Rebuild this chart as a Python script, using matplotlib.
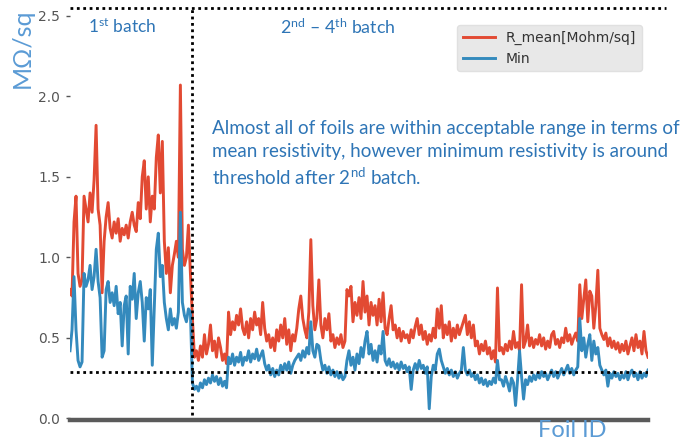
import numpy as np
import matplotlib
matplotlib.use('Agg')
import matplotlib.pyplot as plt

# foil sheet resistance (MOhm/sq)
r_mean_batch1 = [
    0.80, 0.76, 1.22, 1.38, 0.90, 0.82, 0.86, 1.38, 1.30, 1.22,
    1.40, 1.28, 1.48, 1.82, 1.30, 1.20, 0.78, 1.10, 1.25, 1.34,
    1.18, 1.12, 1.22, 1.15, 1.24, 1.10, 1.18, 1.14, 1.20, 1.12,
    1.22, 1.28, 1.20, 1.16, 1.34, 1.24, 1.50, 1.60, 1.30, 1.50,
    1.22, 1.38, 1.30, 1.62, 1.76, 1.40, 1.72, 1.10, 0.90, 1.06,
    0.78, 0.95, 1.02, 1.10, 1.00, 2.07, 1.05, 0.95, 1.00, 1.20,
    0.90,
]
min_batch1 = [
    0.42, 0.55, 0.88, 0.55, 0.36, 0.32, 0.35, 0.90, 0.82, 0.86,
    0.95, 0.80, 0.88, 1.05, 0.85, 0.75, 0.38, 0.42, 0.80, 0.85,
    0.72, 0.78, 0.70, 0.82, 0.65, 0.72, 0.45, 0.70, 0.76, 0.40,
    0.82, 0.74, 0.90, 0.62, 0.78, 0.85, 0.72, 0.48, 0.75, 0.68,
    0.80, 0.33, 0.70, 1.05, 1.15, 0.88, 0.95, 0.72, 0.62, 0.55,
    0.68, 0.58, 0.62, 0.56, 0.66, 1.28, 0.72, 0.64, 0.60, 0.68,
    0.66,
]
r_mean_batch2_4 = [
    0.62, 0.38, 0.42, 0.36, 0.45, 0.38, 0.52, 0.40, 0.46, 0.58,
    0.42, 0.48, 0.38, 0.50, 0.44, 0.36, 0.40, 0.34, 0.66, 0.52,
    0.60, 0.55, 0.64, 0.58, 0.68, 0.56, 0.52, 0.60, 0.50, 0.62,
    0.55, 0.66, 0.58, 0.62, 0.52, 0.72, 0.56, 0.48, 0.52, 0.44,
    0.50, 0.42, 0.55, 0.48, 0.58, 0.50, 0.62, 0.46, 0.55, 0.42,
    0.52, 0.48, 0.56, 0.68, 0.76, 0.62, 0.55, 0.50, 0.66, 1.11,
    0.70, 0.55, 0.62, 0.86, 0.58, 0.50, 0.62, 0.55, 0.65, 0.48,
    0.52, 0.44, 0.50, 0.46, 0.52, 0.44, 0.48, 0.80, 0.76, 0.82,
    0.60, 0.72, 0.64, 0.75, 0.62, 0.85, 0.66, 0.76, 0.58, 0.72,
    0.64, 0.70, 0.58, 0.74, 0.60, 0.78, 0.56, 0.52, 0.62, 0.70,
    0.55, 0.58, 0.50, 0.56, 0.48, 0.54, 0.50, 0.52, 0.47, 0.55,
    0.50, 0.57, 0.62, 0.52, 0.58, 0.49, 0.54, 0.46, 0.52, 0.48,
    0.56, 0.50, 0.68, 0.56, 0.70, 0.50, 0.58, 0.52, 0.60, 0.48,
    0.56, 0.50, 0.58, 0.52, 0.56, 0.60, 0.64, 0.52, 0.60, 0.50,
    0.58, 0.45, 0.48, 0.40, 0.46, 0.42, 0.48, 0.40, 0.44, 0.37,
    0.42, 0.35, 0.81, 0.42, 0.44, 0.40, 0.46, 0.42, 0.48, 0.43,
    0.54, 0.44, 0.47, 0.42, 0.83, 0.44, 0.48, 0.58, 0.45, 0.50,
    0.44, 0.49, 0.46, 0.52, 0.45, 0.50, 0.43, 0.48, 0.44, 0.52,
    0.54, 0.46, 0.49, 0.44, 0.50, 0.47, 0.56, 0.48, 0.52, 0.46,
    0.50, 0.53, 0.48, 0.83, 0.62, 0.74, 0.86, 0.60, 0.79, 0.76,
    0.56, 0.70, 0.92, 0.56, 0.52, 0.49, 0.53, 0.45, 0.50, 0.44,
    0.48, 0.43, 0.47, 0.41, 0.46, 0.42, 0.48, 0.40, 0.45, 0.50,
    0.42, 0.52, 0.44, 0.48, 0.40, 0.54, 0.42, 0.38,
]
min_batch2_4 = [
    0.22, 0.18, 0.20, 0.17, 0.22, 0.19, 0.24, 0.21, 0.25, 0.22,
    0.27, 0.23, 0.26, 0.21, 0.25, 0.20, 0.23, 0.19, 0.38, 0.34,
    0.40, 0.33, 0.38, 0.35, 0.41, 0.33, 0.38, 0.36, 0.42, 0.35,
    0.40, 0.37, 0.43, 0.36, 0.39, 0.42, 0.34, 0.30, 0.33, 0.27,
    0.31, 0.26, 0.30, 0.27, 0.33, 0.29, 0.34, 0.30, 0.35, 0.28,
    0.33, 0.36, 0.38, 0.40, 0.36, 0.42, 0.38, 0.44, 0.40, 0.60,
    0.42, 0.38, 0.46, 0.45, 0.36, 0.30, 0.33, 0.28, 0.32, 0.27,
    0.30, 0.26, 0.29, 0.25, 0.28, 0.24, 0.26, 0.36, 0.42, 0.33,
    0.38, 0.30, 0.40, 0.34, 0.44, 0.38, 0.48, 0.54, 0.40, 0.46,
    0.36, 0.42, 0.35, 0.45, 0.40, 0.54, 0.36, 0.33, 0.37, 0.32,
    0.35, 0.31, 0.34, 0.30, 0.35, 0.31, 0.33, 0.29, 0.32, 0.18,
    0.30, 0.34, 0.30, 0.36, 0.31, 0.33, 0.28, 0.32, 0.06, 0.26,
    0.33, 0.30, 0.40, 0.43, 0.36, 0.32, 0.28, 0.31, 0.27, 0.30,
    0.26, 0.29, 0.25, 0.28, 0.30, 0.44, 0.30, 0.27, 0.30, 0.26,
    0.28, 0.24, 0.27, 0.22, 0.25, 0.21, 0.24, 0.20, 0.23, 0.21,
    0.25, 0.22, 0.36, 0.24, 0.24, 0.20, 0.26, 0.22, 0.17, 0.25,
    0.22, 0.08, 0.24, 0.42, 0.26, 0.12, 0.24, 0.21, 0.26, 0.23,
    0.27, 0.24, 0.28, 0.25, 0.29, 0.26, 0.28, 0.24, 0.27, 0.30,
    0.26, 0.29, 0.25, 0.28, 0.31, 0.27, 0.30, 0.33, 0.28, 0.31,
    0.27, 0.30, 0.32, 0.62, 0.42, 0.50, 0.38, 0.46, 0.52, 0.36,
    0.48, 0.40, 0.44, 0.33, 0.30, 0.27, 0.30, 0.20, 0.28, 0.25,
    0.29, 0.26, 0.28, 0.24, 0.27, 0.25, 0.29, 0.24, 0.28, 0.30,
    0.26, 0.28, 0.24, 0.29, 0.25, 0.28, 0.26, 0.30,
]

r_mean = np.array(r_mean_batch1 + r_mean_batch2_4)
r_min = np.array(min_batch1 + min_batch2_4)
foil_id = np.arange(len(r_mean))

threshold = 0.29        # lower acceptance limit
upper_limit = 2.55
batch_split = len(r_mean_batch1) - 0.4

red = '#E24A33'
blue = '#348ABD'
txt_blue = '#2E75B6'
lab_blue = '#5B9BD5'

plt.rcParams['mathtext.fontset'] = 'custom'
plt.rcParams['mathtext.rm'] = 'Lato'
plt.rcParams['mathtext.it'] = 'Lato:italic'

fig = plt.figure(figsize=(6.81, 4.40), dpi=100)
ax = fig.add_axes([70 / 681, 20 / 440, 578 / 681, 410 / 440])

ax.plot(foil_id, r_mean, color=red, lw=2.1, label='R_mean[Mohm/sq]')
ax.plot(foil_id, r_min, color=blue, lw=2.1, label='Min')

# limits and batch separator
ax.plot([0, len(r_mean) + 0.5], [threshold, threshold], color='black', ls=(0, (1, 1.3)), lw=2)
ax.plot([0, len(r_mean) + 8], [upper_limit, upper_limit], color='black', ls=(0, (1, 1.3)), lw=2,
        clip_on=False)
ax.plot([batch_split, batch_split], [0.02, upper_limit], color='black', ls=(0, (1, 1.3)), lw=2,
        clip_on=False)

ax.set_xlim(0, len(r_mean) - 1)
ax.set_ylim(-0.01, 2.536)
ax.set_yticks([0.0, 0.5, 1.0, 1.5, 2.0, 2.5])
ax.set_xticks([])
ax.tick_params(axis='y', colors='#555555', labelsize=10, length=3, width=1, pad=4)
for s in ['top', 'right', 'left']:
    ax.spines[s].set_visible(False)
ax.spines['bottom'].set_color('#5a5a5a')
ax.spines['bottom'].set_linewidth(3.2)
ax.spines['bottom'].set_position(('data', -0.012))

leg = ax.legend(loc='upper right', bbox_to_anchor=(642 / 681, 1 - 25 / 440),
                bbox_transform=fig.transFigure, borderaxespad=0, fontsize=10,
                frameon=True, fancybox=True, handlelength=2.3, labelcolor='#333333')
leg.get_frame().set_facecolor('#E8E8E8')
leg.get_frame().set_edgecolor('#E0E0E0')
leg.get_frame().set_alpha(1)

fig.text(88 / 681, 1 - 27 / 440, '1$^{\\rm st}$ batch', color=txt_blue, fontsize=12.5,
         family='Lato', va='center', ha='left')
fig.text(280 / 681, 1 - 27 / 440, '2$^{\\rm nd}$ \u2013 4$^{\\rm th}$ batch', color=txt_blue,
         fontsize=12.8, family='Lato', va='center', ha='left')
fig.text(212 / 681, 1 - 120 / 440,
         'Almost all of foils are within acceptable range in terms of\n'
         'mean resistivity, however minimum resistivity is around\n'
         'threshold after 2$^{\\rm nd}$ batch.',
         color=txt_blue, fontsize=13.5, family='Lato', va='top', ha='left', linespacing=1.4)
fig.text(22 / 681, 1 - 8 / 440, 'M\u03a9/sq', color=lab_blue, fontsize=18, family='Lato',
         rotation=90, va='top', ha='center')
fig.text(538 / 681, 1 - 420 / 440, 'Foil ID', color=lab_blue, fontsize=17, family='Lato',
         va='top', ha='left')

fig.savefig('out.png', dpi=100)
